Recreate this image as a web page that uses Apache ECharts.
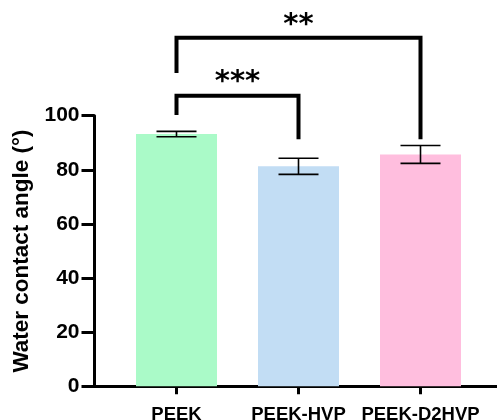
<!DOCTYPE html>
<html>
<head>
<meta charset="utf-8">
<script src="https://cdn.jsdelivr.net/npm/echarts@6/dist/echarts.min.js"></script>
<style>html,body{margin:0;padding:0;background:#fff;}#c{width:497px;height:420px;}</style>
</head>
<body>
<div id="c"></div>
<script>
const categories = ['PEEK', 'PEEK-HVP', 'PEEK-D2HVP'];
const means = [93.2, 81.3, 85.7];
const sds = [1.0, 3.0, 3.3];
const barColors = ['#aafac8', '#c2ddf4', '#ffbede'];
const yMin = 0, yMax = 100, yInterval = 20;
const yTitle = 'Water contact angle (°)';
// significance brackets
const bracketFrom = [0, 0];
const bracketTo = [1, 2];
const bracketTop = [107.4, 128.8];
const bracketLeftEnd = [100.3, 115.8];
const bracketRightEnd = [91.3, 91.3];
const bracketLabelY = [112.2, 133.4];
const bracketLabels = ['***', '**'];

const FONT = '"Liberation Sans", Arial, sans-serif';
const chart = echarts.init(document.getElementById('c'), null, {renderer: 'canvas'});

const errData = categories.map((c, i) => [i, means[i] - sds[i], means[i] + sds[i]]);
const brData = bracketFrom.map((f, i) => [f, bracketTo[i], bracketTop[i], bracketLeftEnd[i], bracketRightEnd[i], bracketLabelY[i]]);

const gridTop = 115.7, gridBottom = 33.7;

chart.setOption({
  animation: false,
  backgroundColor: '#fff',
  grid: [
    {left: 115.5, right: 15.5, top: gridTop, bottom: gridBottom, containLabel: false, outerBoundsMode: 'none'},
    {left: 94.5, right: 0, top: gridTop, bottom: gridBottom, containLabel: false, outerBoundsMode: 'none'}
  ],
  xAxis: [
    {
      type: 'category', gridIndex: 0, data: categories,
      axisLine: {show: false},
      axisTick: {show: true, alignWithLabel: true, length: 8, lineStyle: {color: '#000', width: 3}},
      axisLabel: {color: '#000', fontFamily: FONT, fontWeight: 'bold', fontSize: 18.5, margin: 19, interval: 0}
    },
    {
      type: 'value', gridIndex: 1, min: 0, max: 1,
      axisLine: {show: true, lineStyle: {color: '#000', width: 3}},
      axisTick: {show: false}, axisLabel: {show: false}, splitLine: {show: false}
    }
  ],
  yAxis: [
    {
      type: 'value', gridIndex: 0, min: yMin, max: yMax, interval: yInterval, offset: 21,
      name: yTitle, nameLocation: 'middle', nameGap: 55, nameRotate: 90,
      nameTextStyle: {color: '#000', fontFamily: FONT, fontWeight: 'bold', fontSize: 22.5},
      axisLine: {show: true, lineStyle: {color: '#000', width: 3}},
      axisTick: {show: true, length: 13, lineStyle: {color: '#000', width: 3}},
      axisLabel: {color: '#000', fontFamily: FONT, fontWeight: 'bold', fontSize: 21, margin: 15},
      splitLine: {show: false}
    },
    {type: 'value', gridIndex: 1, show: false, min: 0, max: 1}
  ],
  series: [
    {
      type: 'bar', xAxisIndex: 0, yAxisIndex: 0, barWidth: 81,
      data: means.map((v, i) => ({value: v, itemStyle: {color: barColors[i]}})),
      z: 2
    },
    {
      type: 'custom', xAxisIndex: 0, yAxisIndex: 0, data: errData, z: 3, clip: false,
      renderItem: function (params, api) {
        const lo = api.coord([api.value(0), api.value(1)]);
        const hi = api.coord([api.value(0), api.value(2)]);
        const hw = 20;
        const st = {stroke: '#000', lineWidth: 1.6};
        return {type: 'group', children: [
          {type: 'line', shape: {x1: lo[0], y1: lo[1], x2: hi[0], y2: hi[1]}, style: st},
          {type: 'line', shape: {x1: lo[0] - hw, y1: lo[1], x2: lo[0] + hw, y2: lo[1]}, style: st},
          {type: 'line', shape: {x1: hi[0] - hw, y1: hi[1], x2: hi[0] + hw, y2: hi[1]}, style: st}
        ]};
      }
    },
    {
      type: 'custom', xAxisIndex: 0, yAxisIndex: 0, data: brData, z: 4, clip: false,
      renderItem: function (params, api) {
        const f = api.value(0), t = api.value(1);
        const p1 = api.coord([f, api.value(3)]);
        const p2 = api.coord([f, api.value(2)]);
        const p3 = api.coord([t, api.value(2)]);
        const p4 = api.coord([t, api.value(4)]);
        const ly = api.coord([f, api.value(5)])[1];
        return {type: 'group', children: [
          {type: 'polyline', shape: {points: [p1, p2, p3, p4]},
           style: {stroke: '#000', lineWidth: 4, fill: null, lineJoin: 'miter', lineCap: 'butt'}},
          {type: 'text', style: {text: bracketLabels[params.dataIndex], x: (p2[0] + p3[0]) / 2, y: ly,
            align: 'center', verticalAlign: 'middle', fill: '#000',
            font: 'bold 29px "DejaVu Sans", sans-serif'}}
        ]};
      }
    }
  ]
});
</script>
</body>
</html>
